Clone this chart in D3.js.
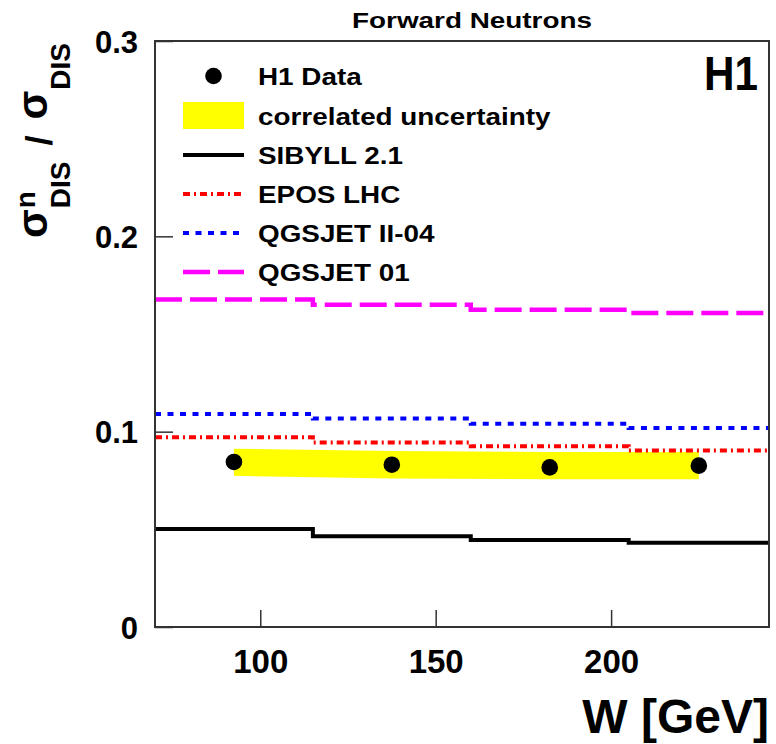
<!DOCTYPE html>
<html>
<head>
<meta charset="utf-8">
<script src="https://cdn.jsdelivr.net/npm/d3@7"></script>
<style>
  body { margin: 0; background: #fff; }
  text { font-family: "Liberation Sans", Helvetica, Arial, sans-serif; font-weight: bold; }
</style>
</head>
<body>
<div id="chart"></div>
<script>
// Données
const binEdges = [70, 115, 160, 205, 245];
const dataW = [92.5, 137.5, 182.5, 225];
const dataRatio = [0.0845, 0.0831, 0.0817, 0.0826];
const bandHigh = [0.0913, 0.0901, 0.0896, 0.0896];
const bandLow = [0.0774, 0.0760, 0.0757, 0.0757];

const sibyll = [0.0502, 0.0465, 0.0445, 0.0431];
const eposLHC = [0.0971, 0.0944, 0.0925, 0.0904];
const qgsjetII04 = [0.1091, 0.1067, 0.1041, 0.1019];
const qgsjet01 = [0.1677, 0.1650, 0.1624, 0.1607];

const xTicks = [100, 150, 200];
const yTicks = [0, 0.1, 0.2, 0.3];

const legendNames = ["H1 Data", "correlated uncertainty", "SIBYLL 2.1", "EPOS LHC", "QGSJET II-04", "QGSJET 01"];

// Dimensions
const width = 776;
const height = 744;
const mLeft = 155, mRight = 769, mTop = 41, mBottom = 627;

const svg = d3.select("#chart")
  .append("svg")
  .attr("width", width)
  .attr("height", height);

// Echelles
let x = d3.scaleLinear().domain([70, 245]).range([mLeft, mRight]);
let y = d3.scaleLinear().domain([0, 0.3]).range([mBottom, mTop]);

svg.append("clipPath").attr("id", "clip")
  .append("rect")
  .attr("x", mLeft).attr("y", mTop)
  .attr("width", mRight - mLeft).attr("height", mBottom - mTop);

const plot = svg.append("g").attr("clip-path", "url(#clip)");

// bande d'incertitude corrélée
let bandArea = d3.area()
  .x(function(d, i){ return x(dataW[i]) })
  .y0(function(d, i){ return y(bandLow[i]) })
  .y1(function(d){ return y(d) });

plot.append("path")
  .datum(bandHigh)
  .attr("d", bandArea)
  .attr("fill", "#ffff00");

// courbes des modèles (histogrammes)
let stepLine = d3.line()
  .x(function(d, i){ return x(binEdges[i]) })
  .y(function(d){ return y(d) })
  .curve(d3.curveStepAfter);

const models = [
  { vals: sibyll, color: "#000000", dash: null, w: 4 },
  { vals: eposLHC, color: "#ff0000", dash: "7,4,2,4", w: 4 },
  { vals: qgsjetII04, color: "#0000ff", dash: "6,6.5", w: 4 },
  { vals: qgsjet01, color: "#ff00ff", dash: "27,8", w: 4.5 }
];

models.forEach(function(m){
  let vals = m.vals.concat([m.vals[m.vals.length - 1]]);
  plot.append("path")
    .datum(vals)
    .attr("d", stepLine)
    .attr("fill", "none")
    .attr("stroke", m.color)
    .attr("stroke-width", m.w)
    .attr("stroke-dasharray", m.dash);
});

// points H1
plot.selectAll("circle.pts")
  .data(dataRatio)
  .enter()
  .append("circle")
  .attr("class", "pts")
  .attr("cx", function(d, i){ return x(dataW[i]) })
  .attr("cy", function(d){ return y(d) })
  .attr("r", 8.3)
  .attr("fill", "#000");

// cadre
svg.append("rect")
  .attr("x", mLeft).attr("y", mTop)
  .attr("width", mRight - mLeft).attr("height", mBottom - mTop)
  .attr("fill", "none")
  .attr("stroke", "#333")
  .attr("stroke-width", 2);

// axe x
let xAxis = d3.axisBottom(x).tickValues(xTicks).tickSize(-17).tickPadding(0).tickFormat(d3.format("d"));
let gx = svg.append("g").attr("transform", "translate(0," + mBottom + ")").call(xAxis);
gx.select(".domain").remove();
gx.selectAll("line").attr("stroke", "#333").attr("stroke-width", 1.5);
gx.selectAll("text")
  .attr("y", 46)
  .attr("dy", 0)
  .attr("font-size", 33)
  .attr("fill", "#000")
  .style("font-family", "\"Liberation Sans\", Helvetica, Arial, sans-serif")
  .style("font-weight", "bold");

// axe y
let yAxis = d3.axisLeft(y).tickValues(yTicks).tickSize(-18).tickPadding(0)
  .tickFormat(function(d){ return d == 0 ? "0" : d3.format(".1f")(d) });
let gy = svg.append("g").attr("transform", "translate(" + mLeft + ",0)").call(yAxis);
gy.select(".domain").remove();
gy.selectAll("line").attr("stroke", "#333").attr("stroke-width", 1.5);
gy.selectAll("text")
  .attr("x", -17)
  .attr("dy", "0.36em")
  .attr("font-size", 31)
  .attr("fill", "#000")
  .style("font-family", "\"Liberation Sans\", Helvetica, Arial, sans-serif")
  .style("font-weight", "bold");

// titres
svg.append("text")
  .attr("x", 472).attr("y", 28)
  .attr("text-anchor", "middle")
  .attr("font-size", 22)
  .attr("textLength", 240)
  .attr("lengthAdjust", "spacingAndGlyphs")
  .text("Forward Neutrons");

svg.append("text")
  .attr("x", 758).attr("y", 90)
  .attr("text-anchor", "end")
  .attr("font-size", 48)
  .attr("textLength", 54)
  .attr("lengthAdjust", "spacingAndGlyphs")
  .text("H1");

svg.append("text")
  .attr("x", 769).attr("y", 733)
  .attr("text-anchor", "end")
  .attr("font-size", 48)
  .text("W [GeV]");

// titre axe y : sigma^n_DIS / sigma_DIS
let ylab = svg.append("g").attr("transform", "translate(47,238) rotate(-90)");
let pos = 0;
function addPart(txt, size, dy){
  let t = ylab.append("text").attr("x", pos).attr("y", dy).attr("font-size", size).text(txt);
  return t.node().getComputedTextLength();
}
pos += addPart("\u03c3", 42, 0) + 1;
let supW = addPart("n", 28, -12);
let subW = addPart("DIS", 28, 23);
pos += Math.max(supW, subW) + 16;
pos += addPart("/", 36, 5) + 16;
pos += addPart("\u03c3", 42, 0) + 1;
addPart("DIS", 28, 23);

// légende
const rowY = [76, 115.5, 155, 194, 233, 272];
const symX0 = 183, symX1 = 244, textX = 258;

svg.append("circle")
  .attr("cx", (symX0 + symX1) / 2).attr("cy", rowY[0])
  .attr("r", 8.3).attr("fill", "#000");

svg.append("rect")
  .attr("x", symX0).attr("y", rowY[1] - 13.5)
  .attr("width", symX1 - symX0).attr("height", 27)
  .attr("fill", "#ffff00");

models.forEach(function(m, i){
  svg.append("line")
    .attr("x1", symX0).attr("x2", symX1)
    .attr("y1", rowY[i + 2]).attr("y2", rowY[i + 2])
    .attr("stroke", m.color)
    .attr("stroke-width", m.w)
    .attr("stroke-dasharray", m.dash);
});

let legText = svg.selectAll("text.leg")
  .data(legendNames)
  .enter()
  .append("text")
  .attr("class", "leg")
  .attr("x", textX)
  .attr("y", function(d, i){ return rowY[i] + 9 })
  .attr("font-size", 24)
  .text(function(d){ return d });

// texte de légende un peu plus large que la police
legText.each(function(){
  let len = this.getComputedTextLength();
  d3.select(this).attr("textLength", len * 1.16).attr("lengthAdjust", "spacingAndGlyphs");
});
</script>
</body>
</html>
